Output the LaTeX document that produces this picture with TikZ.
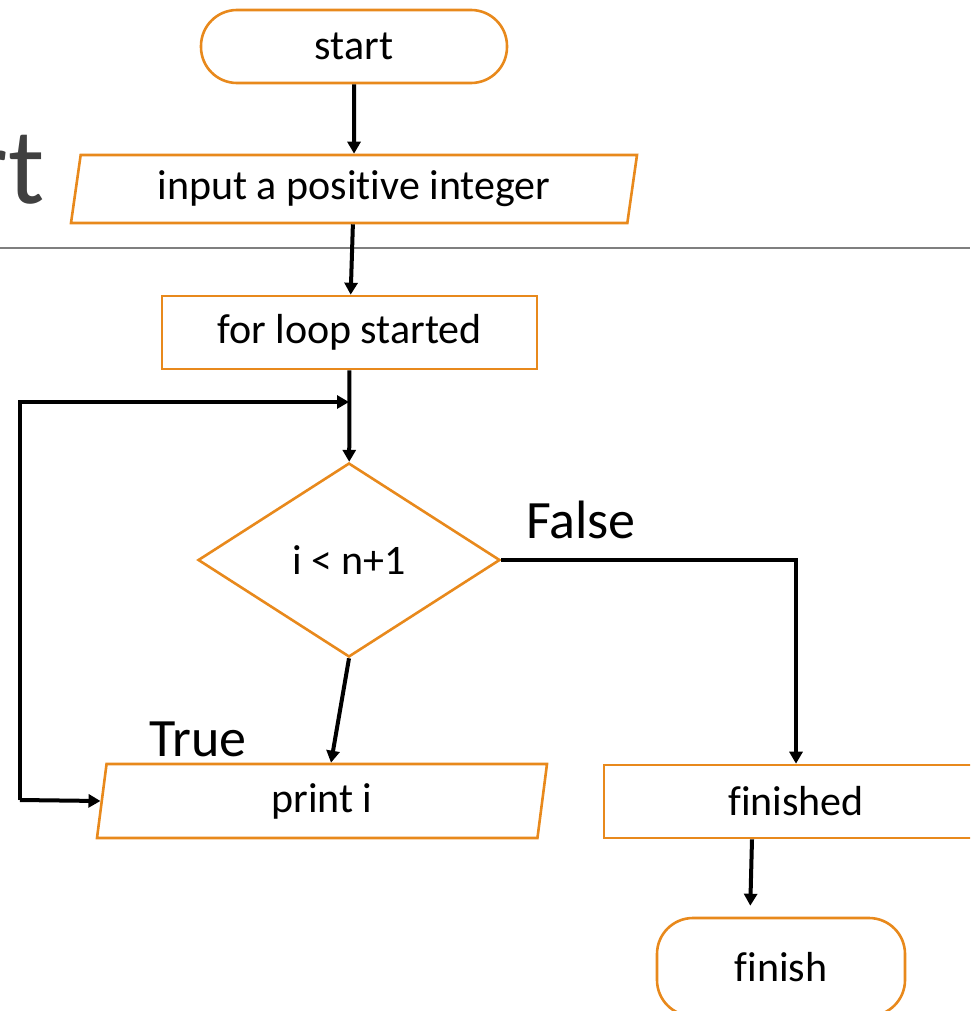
\documentclass[tikz,border=0pt]{standalone}
\usepackage{fontspec}
\setmainfont{Carlito}[Ligatures=NoCommon]
\usetikzlibrary{shapes.geometric,arrows.meta}
\definecolor{boxorange}{HTML}{E8891C}
\definecolor{titlegray}{HTML}{404040}
\definecolor{rulegray}{HTML}{7F7F7F}

\begin{document}
\begin{tikzpicture}[x=0.5pt, y=-0.5pt,
    every node/.style={draw=boxorange, line width=1.3pt, inner sep=0pt, font=\fontsize{21}{25}\selectfont},
    term/.style={rectangle, rounded corners=18pt, minimum width=153pt, minimum height=36.5pt},
    box/.style={rectangle, minimum height=36.5pt},
    io/.style={trapezium, trapezium left angle=75, trapezium right angle=105, trapezium stretches body},
    cond/.style={diamond, minimum width=151pt, minimum height=97pt},
    tag/.style={draw=none, font=\fontsize{27}{32}\selectfont},
    flow/.style={-{Triangle[length=6pt,width=6.5pt]}, line width=2pt}]
            \useasboundingbox (0,0) rectangle (970,1011);
            \clip (0,0) rectangle (970,1011);

            \node[tag, text=titlegray, anchor=base east, font=\fontsize{54}{64}\selectfont] (head) at (46,203) {rt};
            \draw[rulegray, line width=1pt] (0,248) -- (970,248);

            \node[term] (start) at (354,46.5) {start};
            \node[io, minimum width=283pt, minimum height=34pt] (input) at (354,189) {input a positive integer};
            \node[box, minimum width=187.5pt] (loop) at (349.5,332.5) {for loop started};
            \node[cond] (test) at (349,560) {i < n+1};
            \node[io, minimum width=225pt, minimum height=37pt] (print) at (322,801) {print i};
            \node[box, minimum width=192pt] (done) at (796,801.5) {finished};
            \node[term, minimum width=124pt, minimum height=49pt] (finish) at (781,967) {finish};

            \node[tag, anchor=base] (false) at (581,538) {False};
            \node[tag, anchor=base] (true) at (198,756) {True};

            \coordinate (back) at (20,800);
            \coordinate (join) at (349,402);

            \draw[flow] (start) -- (input);
            \draw[flow] (input) -- (loop);
            \draw[flow] (loop) -- (test);
            \draw[flow] (test.south) -- ([xshift=4.5pt]print.north);
            \draw[flow] (test.east) -| (done.north);
            \draw[flow, shorten >=5.5pt] ([xshift=-22pt]done.south) -- ([xshift=-15.5pt]finish.north);
            \draw[flow] (back) -- (print.west);
            \draw[flow] (back) |- (join);
        \end{tikzpicture}
\end{document}
